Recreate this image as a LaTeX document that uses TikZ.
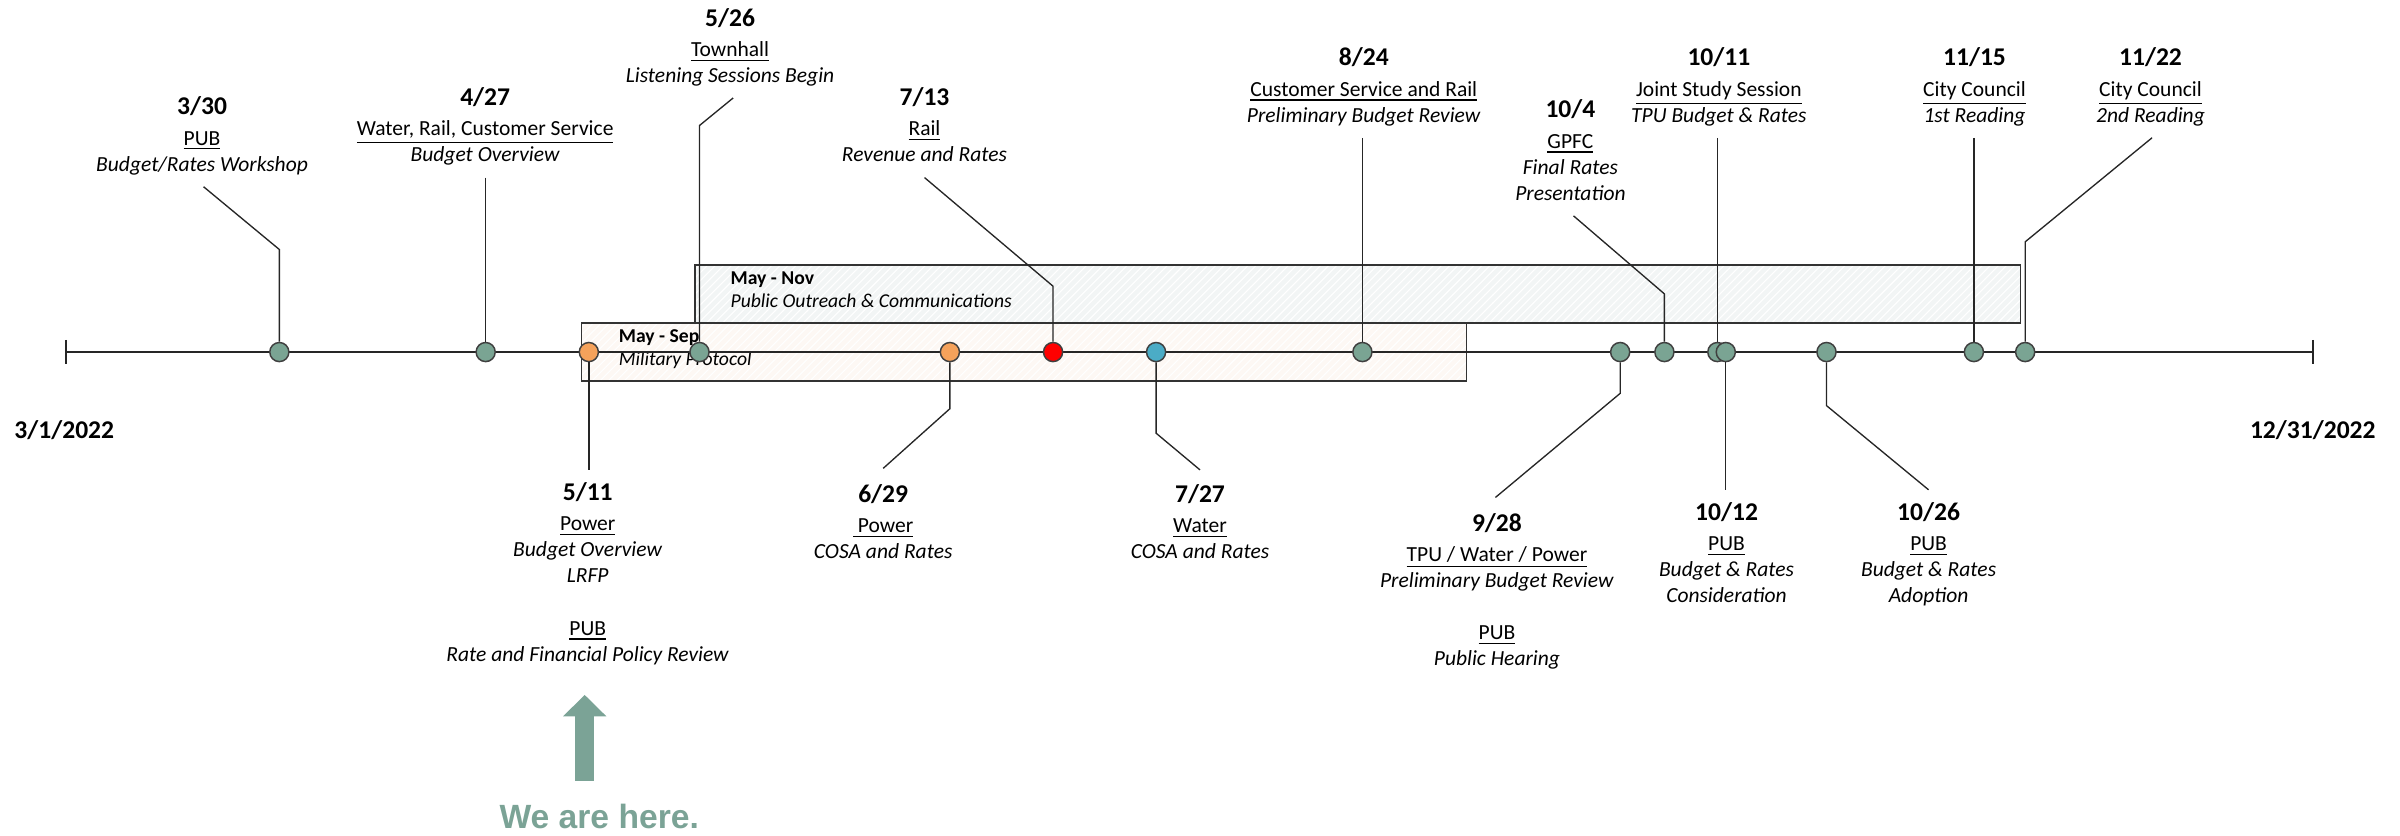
\documentclass[tikz,border=0pt]{standalone}
\usepackage{fontspec}
\setmainfont{Carlito}
\newfontfamily\herefont{Liberation Sans}
\usetikzlibrary{positioning,patterns,arrows.meta}

\definecolor{dotgreen}{HTML}{7AA493}
\definecolor{dotorange}{HTML}{F5A25B}
\definecolor{dotred}{HTML}{FF0000}
\definecolor{dotblue}{HTML}{4BACC6}
\definecolor{novfill}{HTML}{F2F5F5}
\definecolor{sepfill}{HTML}{FDF8F4}
\definecolor{herecol}{HTML}{7BA396}

\newcommand{\when}[1]{{\fontsize{9.5}{11}\selectfont\bfseries #1}}

\begin{document}
\begin{tikzpicture}[x=0.2mm,y=-0.2mm,
  evdot/.style={circle,draw=black!75,line width=0.55pt,inner sep=0pt,minimum size=2.5mm},
  evtext/.style={align=center,inner sep=0pt,anchor=north,font=\fontsize{8}{9.7}\selectfont},
  leader/.style={black!85,line width=0.5pt},
  spanbox/.style={draw=black!80,line width=0.6pt,pattern=north east lines,pattern color=white},
  spantext/.style={align=left,anchor=north west,inner sep=0pt,font=\fontsize{7.3}{8.6}\selectfont},
  endtext/.style={font=\fontsize{9.5}{11}\selectfont\bfseries}]

\useasboundingbox (0,0) rectangle (1568,546);

% spans
\draw[spanbox,preaction={fill=novfill}] (454,173) rectangle (1320,211);
\draw[spanbox,preaction={fill=sepfill}] (380,211) rectangle (958,249);
\node[spantext] (nov) at (477,177) {\textbf{May - Nov}\\\textit{Public Outreach \& Communications}};
\node[spantext] (sep) at (404,215) {\textbf{May - Sep}\\\textit{Military Protocol}};

% axis
\draw[black!85,line width=0.6pt] (43,230) -- (1511,230);
\draw[black!85,line width=0.6pt] (43,222) -- (43,238);
\draw[black!85,line width=0.6pt] (1511,222) -- (1511,238);
\node[endtext] (start) at (42,281) {3/1/2022};
\node[endtext] (stop) at (1511,281) {12/31/2022};

% events
\node[evdot,fill=dotgreen] (p1) at (182.5,230) {};
\node[evdot,fill=dotgreen] (p2) at (317.3,230) {};
\node[evdot,fill=dotorange] (p3) at (384.7,230) {};
\node[evdot,fill=dotgreen] (p4) at (457,230) {};
\node[evdot,fill=dotorange] (p5) at (620.6,230) {};
\node[evdot,fill=dotred] (p6) at (688,230) {};
\node[evdot,fill=dotblue] (p7) at (755.3,230) {};
\node[evdot,fill=dotgreen] (p8) at (890.1,230) {};
\node[evdot,fill=dotgreen] (p9) at (1058.5,230) {};
\node[evdot,fill=dotgreen] (p10) at (1087.4,230) {};
\node[evdot,fill=dotgreen] (p11) at (1122,230) {};
\node[evdot,fill=dotgreen] (p12) at (1127.5,230) {};
\node[evdot,fill=dotgreen] (p13) at (1193.3,230) {};
\node[evdot,fill=dotgreen] (p14) at (1289.6,230) {};
\node[evdot,fill=dotgreen] (p15) at (1323.1,230) {};

% labels above
\node[evtext] (t1) at (132,63) {\when{3/30}\\[1.5pt]\underline{PUB}\\\textit{Budget/Rates Workshop}};
\node[evtext] (t2) at (317,57) {\when{4/27}\\[1.5pt]\underline{Water, Rail, Customer Service}\\\textit{Budget Overview}};
\node[evtext] (t4) at (477,5) {\when{5/26}\\[1.5pt]\underline{Townhall}\\\textit{Listening Sessions Begin}};
\node[evtext] (t6) at (604,57) {\when{7/13}\\[1.5pt]\underline{Rail}\\\textit{Revenue and Rates}};
\node[evtext] (t8) at (891,31) {\when{8/24}\\[1.5pt]\underline{Customer Service and Rail}\\\textit{Preliminary Budget Review}};
\node[evtext] (t10) at (1026,65) {\when{10/4}\\[1.5pt]\underline{GPFC}\\\textit{Final Rates}\\\textit{Presentation}};
\node[evtext] (t11) at (1123,31) {\when{10/11}\\[1.5pt]\underline{Joint Study Session}\\\textit{TPU Budget \& Rates}};
\node[evtext] (t14) at (1290,31) {\when{11/15}\\[1.5pt]\underline{City Council}\\\textit{1st Reading}};
\node[evtext] (t15) at (1405,31) {\when{11/22}\\[1.5pt]\underline{City Council}\\\textit{2nd Reading}};

% labels below
\node[evtext] (t3) at (384,315) {\when{5/11}\\[1.5pt]\underline{Power}\\\textit{Budget Overview}\\\textit{LRFP}\\[9.7pt]\underline{PUB}\\\textit{Rate and Financial Policy Review}};
\node[evtext] (t5) at (577,316) {\when{6/29}\\[1.5pt]\underline{\ Power}\\\textit{COSA and Rates}};
\node[evtext] (t7) at (784,316) {\when{7/27}\\[1.5pt]\underline{Water}\\\textit{COSA and Rates}};
\node[evtext] (t9) at (978,335) {\when{9/28}\\[1.5pt]\underline{TPU / Water / Power}\\\textit{Preliminary Budget Review}\\[9.7pt]\underline{PUB}\\\textit{Public Hearing}};
\node[evtext] (t12) at (1128,328) {\when{10/12}\\[1.5pt]\underline{PUB}\\\textit{Budget \& Rates}\\\textit{Consideration}};
\node[evtext] (t13) at (1260,328) {\when{10/26}\\[1.5pt]\underline{PUB}\\\textit{Budget \& Rates}\\\textit{Adoption}};

% leader ends
\coordinate (s1) at (133,122);
\coordinate (s2) at (317.3,116);
\coordinate (s3) at (384.7,307);
\coordinate (s4) at (479,64);
\coordinate (s5) at (577,306);
\coordinate (s6) at (604,116);
\coordinate (s7) at (784,307);
\coordinate (s8) at (890.1,90);
\coordinate (s9) at (977,325);
\coordinate (s10) at (1028,141);
\coordinate (s11) at (1122,90);
\coordinate (s12) at (1127.5,320);
\coordinate (s13) at (1260,320);
\coordinate (s14) at (1289.6,90);
\coordinate (s15) at (1406,90);

\draw[leader] (s1) -- (p1 |- 0,163) -- (p1);
\draw[leader] (s2) -- (p2);
\draw[leader] (p3) -- (s3);
\draw[leader] (s4) -- (p4 |- 0,82) -- (p4);
\draw[leader] (p5) -- (p5 |- 0,267) -- (s5);
\draw[leader] (s6) -- (p6 |- 0,187) -- (p6);
\draw[leader] (p7) -- (p7 |- 0,283) -- (s7);
\draw[leader] (s8) -- (p8);
\draw[leader] (p9) -- (p9 |- 0,257) -- (s9);
\draw[leader] (s10) -- (p10 |- 0,192) -- (p10);
\draw[leader] (s11) -- (p11);
\draw[leader] (p12) -- (s12);
\draw[leader] (p13) -- (p13 |- 0,265) -- (s13);
\draw[leader] (s14) -- (p14);
\draw[leader] (s15) -- (p15 |- 0,158) -- (p15);

% we are here
\node[font={\fontsize{12.5}{14}\selectfont\herefont\bfseries},text=herecol,anchor=base,inner sep=0pt] (here) at (391.5,541) {We are here.};
\coordinate (tail) at (382,510);
\coordinate (tip) at (382,454);
\draw[herecol,line width=2.5mm,-{Triangle[width=5.5mm,length=2.8mm]}] (tail) -- (tip);
\end{tikzpicture}
\end{document}
